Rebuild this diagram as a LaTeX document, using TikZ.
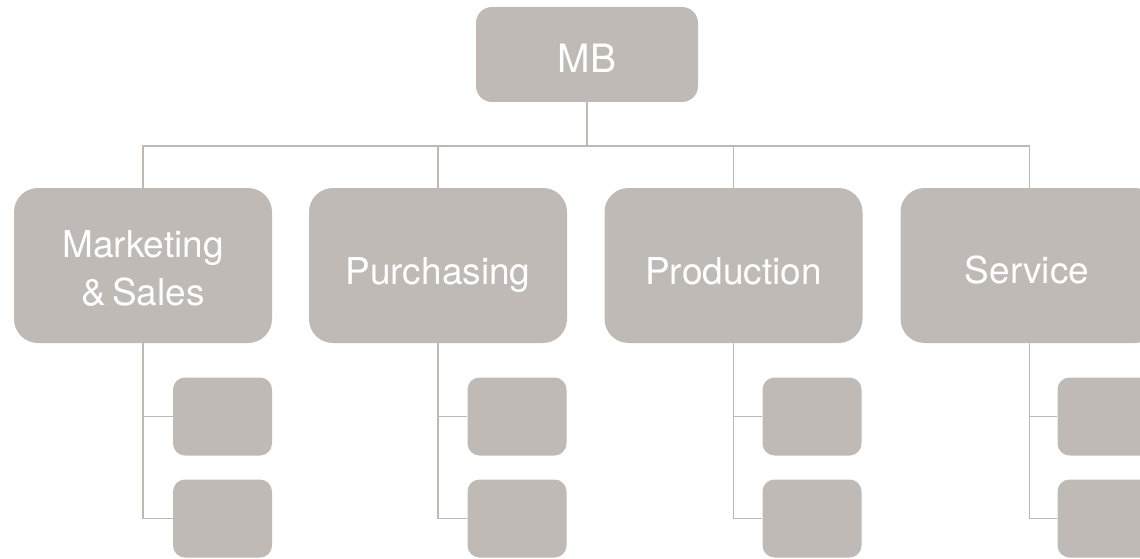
\documentclass[tikz,border=0pt]{standalone}
\usepackage{fontspec}
\newfontfamily\orgfont{TeX Gyre Heros}
\definecolor{boxgrey}{HTML}{C0BAB7}
\definecolor{linkgrey}{HTML}{BFB9B6}
\begin{document}
\begin{tikzpicture}[x=1pt,y=-1pt,
  topbox/.style={fill=boxgrey, rounded corners=16pt, minimum width=222pt, minimum height=95pt, inner sep=0pt},
  deptbox/.style={fill=boxgrey, rounded corners=24pt, minimum width=258pt, minimum height=155pt, inner sep=0pt},
  subbox/.style={fill=boxgrey, rounded corners=12pt, minimum width=99pt, minimum height=78pt, inner sep=0pt},
  lbl/.style={text=white, font=\orgfont\fontsize{37}{46}\selectfont, anchor=base, inner sep=0pt},
  link/.style={draw=linkgrey, line width=1.6pt}]
\useasboundingbox (0,0) rectangle (1140,559);
\clip (0,0) rectangle (1140,559);

% top of the chart
\node[topbox] (mb) at (587,54.5) {};
\node[lbl, font=\orgfont\fontsize{39}{46}\selectfont] (mbtext) at (587,73) {MB};

% departments
\node[deptbox] (mkt)  at (143,265.5) {};
\node[deptbox] (pur)  at (438,265.5) {};
\node[deptbox] (prod) at (733.5,265.5) {};
\node[deptbox] (serv) at (1029.5,265.5) {};

\node[lbl] (mkttext)  at (143,257) {Marketing};
\node[lbl] (mkttextb) at (143,305) {\&\,Sales};
\node[lbl] (purtext)  at (438,284) {Purchasing};
\node[lbl] (prodtext) at (733.5,284) {Production};
\node[lbl] (servtext) at (1027,283) {Service};

% sub-units below each department
\foreach \d/\x in {mkt/222.5, pur/517, prod/812, serv/1107}{
  \node[subbox] (\d a) at (\x,416.5) {};
  \node[subbox] (\d b) at (\x,518.5) {};
}

% connectors: top to departments via a common bus
\coordinate (bus) at (587,146);
\foreach \d in {mkt, pur, prod, serv}{
  \draw[link] (mb.south) -- (mb.south |- bus) -| (\d.north);
}

% connectors: departments to their sub-units
\foreach \d in {mkt, pur, prod, serv}{
  \draw[link] (\d.south) |- (\d a.west);
  \draw[link] (\d.south) |- (\d b.west);
}
\end{tikzpicture}
\end{document}
